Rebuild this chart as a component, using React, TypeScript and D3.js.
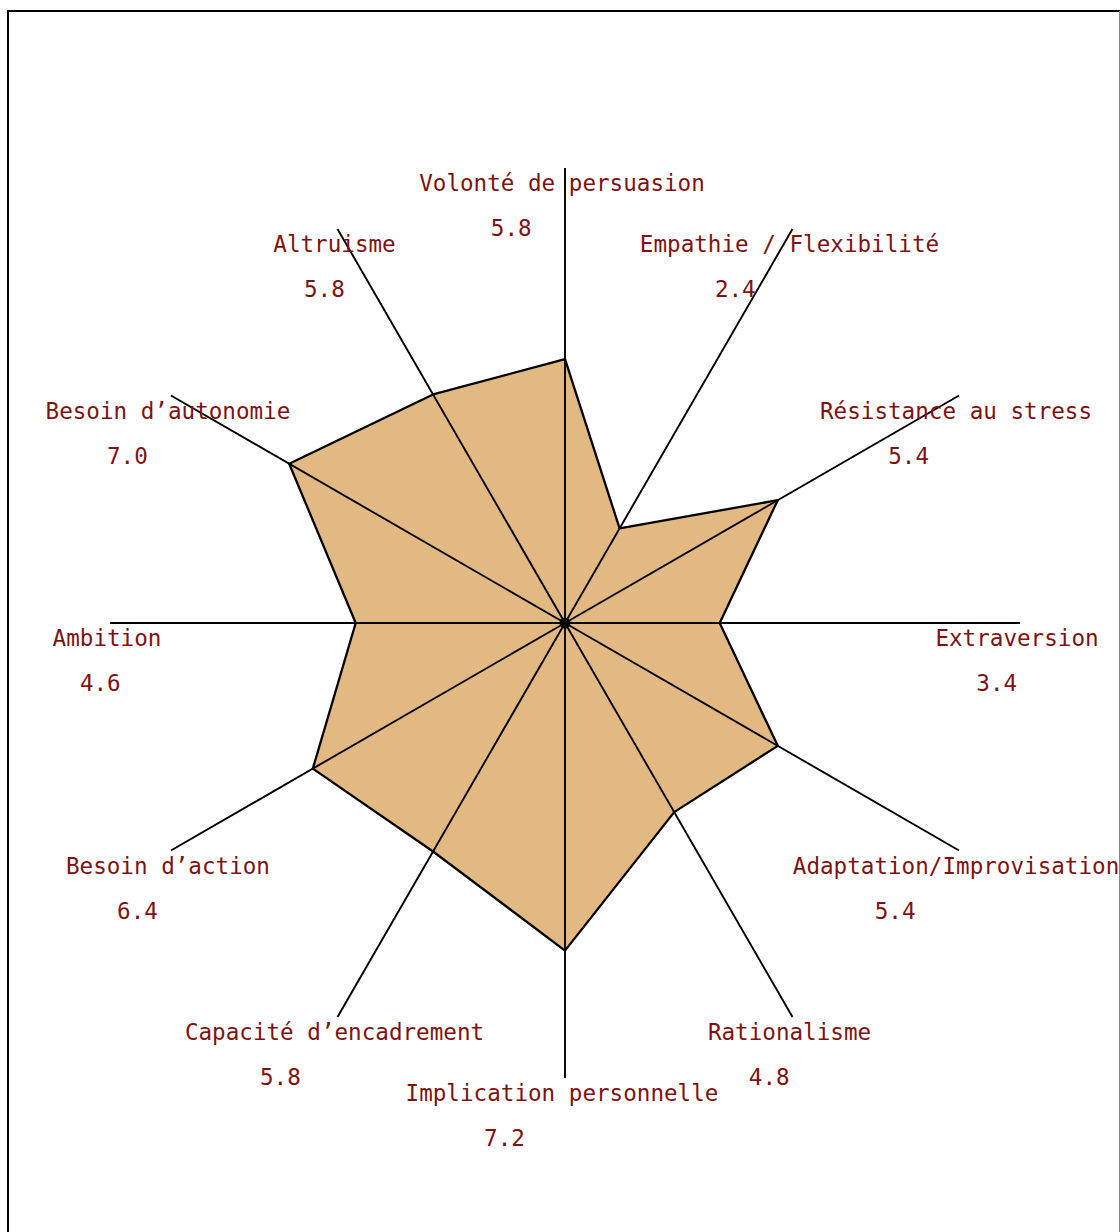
import { useRef, useEffect } from "react";
import * as d3 from "d3";

// axes clockwise from the top
const labels = [
  "Volonté de persuasion",
  "Empathie / Flexibilité",
  "Résistance au stress",
  "Extraversion",
  "Adaptation/Improvisation",
  "Rationalisme",
  "Implication personnelle",
  "Capacité d’encadrement",
  "Besoin d’action",
  "Ambition",
  "Besoin d’autonomie",
  "Altruisme",
];
const scores = [5.8, 2.4, 5.4, 3.4, 5.4, 4.8, 7.2, 5.8, 6.4, 4.6, 7.0, 5.8];
const maxScore = 10;

export default function App() {
  const svgRef = useRef<SVGSVGElement>(null);

  useEffect(() => {
    const svg = d3.select(svgRef.current);
    svg.selectAll("*").remove();

    const height = 1232;
    const cx = 565;
    const cy = 623;
    const R = 455;
    const fontSize = 22.6;
    const charW = fontSize * 0.6;
    const textColor = "#7e1212";

    // frame
    svg.append("line").attr("x1", 8).attr("y1", 10).attr("x2", 8).attr("y2", height)
      .attr("stroke", "#000").attr("stroke-width", 2);
    svg.append("line").attr("x1", 7).attr("y1", 11).attr("x2", 1120).attr("y2", 11)
      .attr("stroke", "#000").attr("stroke-width", 2);
    svg.append("line").attr("x1", 1119.5).attr("y1", 11).attr("x2", 1119.5).attr("y2", height)
      .attr("stroke", "#888").attr("stroke-width", 1);

    const r = d3.scaleLinear().domain([0, maxScore]).range([0, R]);
    const angle = d3.scaleLinear().domain([0, labels.length]).range([0, 2 * Math.PI]);

    const g = svg.append("g").attr("transform", `translate(${cx},${cy})`);

    const radial = d3.lineRadial<number>()
      .angle((_, i) => angle(i))
      .radius((d) => r(d))
      .curve(d3.curveLinearClosed);

    g.append("path")
      .attr("d", radial(scores))
      .attr("fill", "#e2b982")
      .attr("stroke", "#000")
      .attr("stroke-width", 2.3)
      .attr("stroke-linejoin", "round");

    const pt = (i: number, v: number) => {
      const a = angle(i);
      return [Math.sin(a) * r(v), -Math.cos(a) * r(v)];
    };

    labels.forEach((_, i) => {
      const [x, y] = pt(i, maxScore);
      g.append("line")
        .attr("x1", 0).attr("y1", 0).attr("x2", x).attr("y2", y)
        .attr("stroke", "#000").attr("stroke-width", 1.9);
    });

    g.append("circle").attr("r", 5.5).attr("fill", "#000");

    labels.forEach((lab, i) => {
      const [x, y] = pt(i, maxScore);
      const lx = x - 3;
      const w = lab.length * charW;
      g.append("text")
        .attr("x", lx)
        .attr("y", y + 23)
        .attr("text-anchor", "middle")
        .attr("font-family", "'DejaVu Sans Mono', monospace")
        .attr("font-size", fontSize)
        .attr("fill", textColor)
        .text(lab);
      g.append("text")
        .attr("x", lx - w / 4)
        .attr("y", y + 68)
        .attr("text-anchor", "start")
        .attr("font-family", "'DejaVu Sans Mono', monospace")
        .attr("font-size", fontSize)
        .attr("fill", textColor)
        .text(scores[i].toFixed(1));
    });
  }, []);

  return (
    <svg
      ref={svgRef}
      width={1120}
      height={1232}
      style={{ position: "absolute", left: 0, top: 0, background: "#fff" }}
    />
  );
}
